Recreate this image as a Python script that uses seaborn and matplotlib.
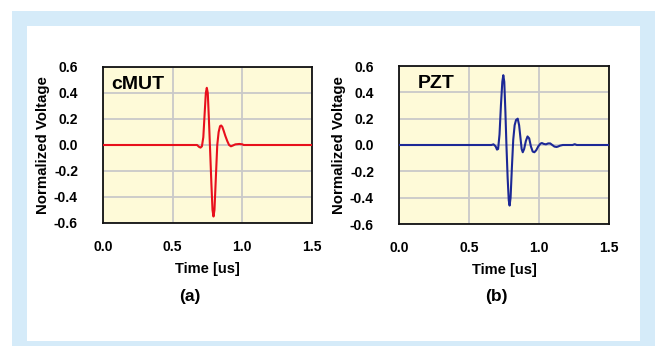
import numpy as np
import pandas as pd
import matplotlib
matplotlib.use("Agg")
import matplotlib.pyplot as plt
import seaborn as sns
from matplotlib.patches import Rectangle

# Waveform samples (time in us, normalized voltage)
cmut_t = [0.0, 0.50, 0.66, 0.675, 0.69, 0.70, 0.71, 0.72, 0.73, 0.738, 0.745, 0.752,
          0.76, 0.768, 0.778, 0.786, 0.793, 0.80, 0.81, 0.82, 0.83, 0.84, 0.848,
          0.856, 0.866, 0.878, 0.892, 0.905, 0.918, 0.93, 0.95, 0.98, 1.00, 1.01, 1.5]
cmut_v = [0.0, 0.0, 0.0, 0.0, -0.015, -0.02, -0.01, 0.06, 0.25, 0.40, 0.44, 0.40,
          0.20, -0.02, -0.30, -0.50, -0.55, -0.50, -0.25, 0.0, 0.10, 0.145, 0.15,
          0.14, 0.11, 0.07, 0.03, 0.0, -0.01, -0.005, 0.005, 0.008, 0.005, 0.0, 0.0]

pzt_t = [0.0, 0.50, 0.66, 0.675, 0.69, 0.70, 0.708, 0.718, 0.728, 0.738, 0.745, 0.752,
         0.76, 0.768, 0.776, 0.784, 0.79, 0.797, 0.806, 0.816, 0.826, 0.836, 0.848,
         0.858, 0.868, 0.876, 0.884, 0.894, 0.906, 0.918, 0.93, 0.942, 0.955, 0.967,
         0.98, 0.995, 1.01, 1.02, 1.035, 1.05, 1.065, 1.08, 1.095, 1.11, 1.125,
         1.135, 1.15, 1.17, 1.2, 1.24, 1.255, 1.27, 1.5]
pzt_v = [0.0, 0.0, 0.0, 0.005, -0.01, -0.035, -0.03, 0.08, 0.30, 0.48, 0.53, 0.48,
         0.25, -0.02, -0.25, -0.42, -0.46, -0.40, -0.18, 0.04, 0.15, 0.19, 0.20,
         0.15, 0.05, -0.03, -0.055, -0.03, 0.03, 0.065, 0.05, -0.01, -0.05, -0.055,
         -0.04, -0.01, 0.01, 0.015, 0.008, 0.005, 0.012, 0.012, 0.0, -0.012, -0.015,
         -0.012, -0.005, 0.0, 0.0, 0.0, 0.006, 0.0, 0.0]

panels = ["cMUT", "PZT"]
captions = ["(a)", "(b)"]
line_colors = ["#E8101C", "#1C2896"]
x_ticks = [0.0, 0.5, 1.0, 1.5]
y_ticks = [-0.6, -0.4, -0.2, 0.0, 0.2, 0.4, 0.6]

sns.set_style("white")
plt.rcParams["font.family"] = ["Liberation Sans", "DejaVu Sans"]
plt.rcParams["font.weight"] = "bold"
plt.rcParams["text.color"] = "black"
plt.rcParams["axes.labelcolor"] = "black"
plt.rcParams["xtick.color"] = "black"
plt.rcParams["ytick.color"] = "black"

fig = plt.figure(figsize=(6.56, 3.46), dpi=100)
W, H = 656, 346

# light blue frame with a white panel inside
fig.patches.append(Rectangle((12 / W, 0), 643 / W, 335 / H, transform=fig.transFigure,
                             facecolor="#D5EBF9", edgecolor="none", zorder=-10))
fig.patches.append(Rectangle((27 / W, 5 / H), 613 / W, 315 / H, transform=fig.transFigure,
                             facecolor="white", edgecolor="none", zorder=-9))

axes_px = [(103, 67, 312, 223), (399, 66, 609, 224)]
data = [(cmut_t, cmut_v), (pzt_t, pzt_v)]

for i, (l, t, r, b) in enumerate(axes_px):
    ax = fig.add_axes([l / W, 1 - b / H, (r - l) / W, (b - t) / H])
    ax.set_zorder(1)
    ax.set_facecolor("#FEFAD8")
    df = pd.DataFrame({"Time": data[i][0], "Voltage": data[i][1]})
    sns.lineplot(data=df, x="Time", y="Voltage", ax=ax, color=line_colors[i],
                 linewidth=1.5, zorder=3)
    ax.set_xlim(0, 1.5)
    ax.set_ylim(-0.6, 0.6)
    ax.set_xticks(x_ticks)
    ax.set_yticks(y_ticks)
    ax.set_xticklabels([f"{v:.1f}" for v in x_ticks], fontsize=10, fontweight="bold")
    ax.set_yticklabels([f"{v:.1f}" for v in y_ticks], fontsize=10, fontweight="bold")
    ax.grid(True, color="#C9C9C9", linewidth=1.3)
    ax.set_axisbelow(True)
    ax.tick_params(axis="y", direction="in", length=5, width=1, color="#444444", pad=18)
    ax.tick_params(axis="x", direction="in", length=0, pad=12)
    for s in ax.spines.values():
        s.set_color("#111111")
        s.set_linewidth(1.3)
    ax.set_xlabel("Time [us]", fontsize=10.5, fontweight="bold", labelpad=6)
    ax.set_ylabel("Normalized Voltage", fontsize=10.8, fontweight="bold", labelpad=3)
    ax.text(0.04 if i == 0 else 0.09, 0.89, panels[i], transform=ax.transAxes,
            fontsize=14, fontweight="bold", va="center", ha="left")
    cx = (l + r) / 2 - (18 if i == 0 else 8)
    fig.text(cx / W, 1 - 296 / H, captions[i], fontsize=12.5, fontweight="bold",
             ha="center", va="center")

fig.savefig("out.png", dpi=100)
